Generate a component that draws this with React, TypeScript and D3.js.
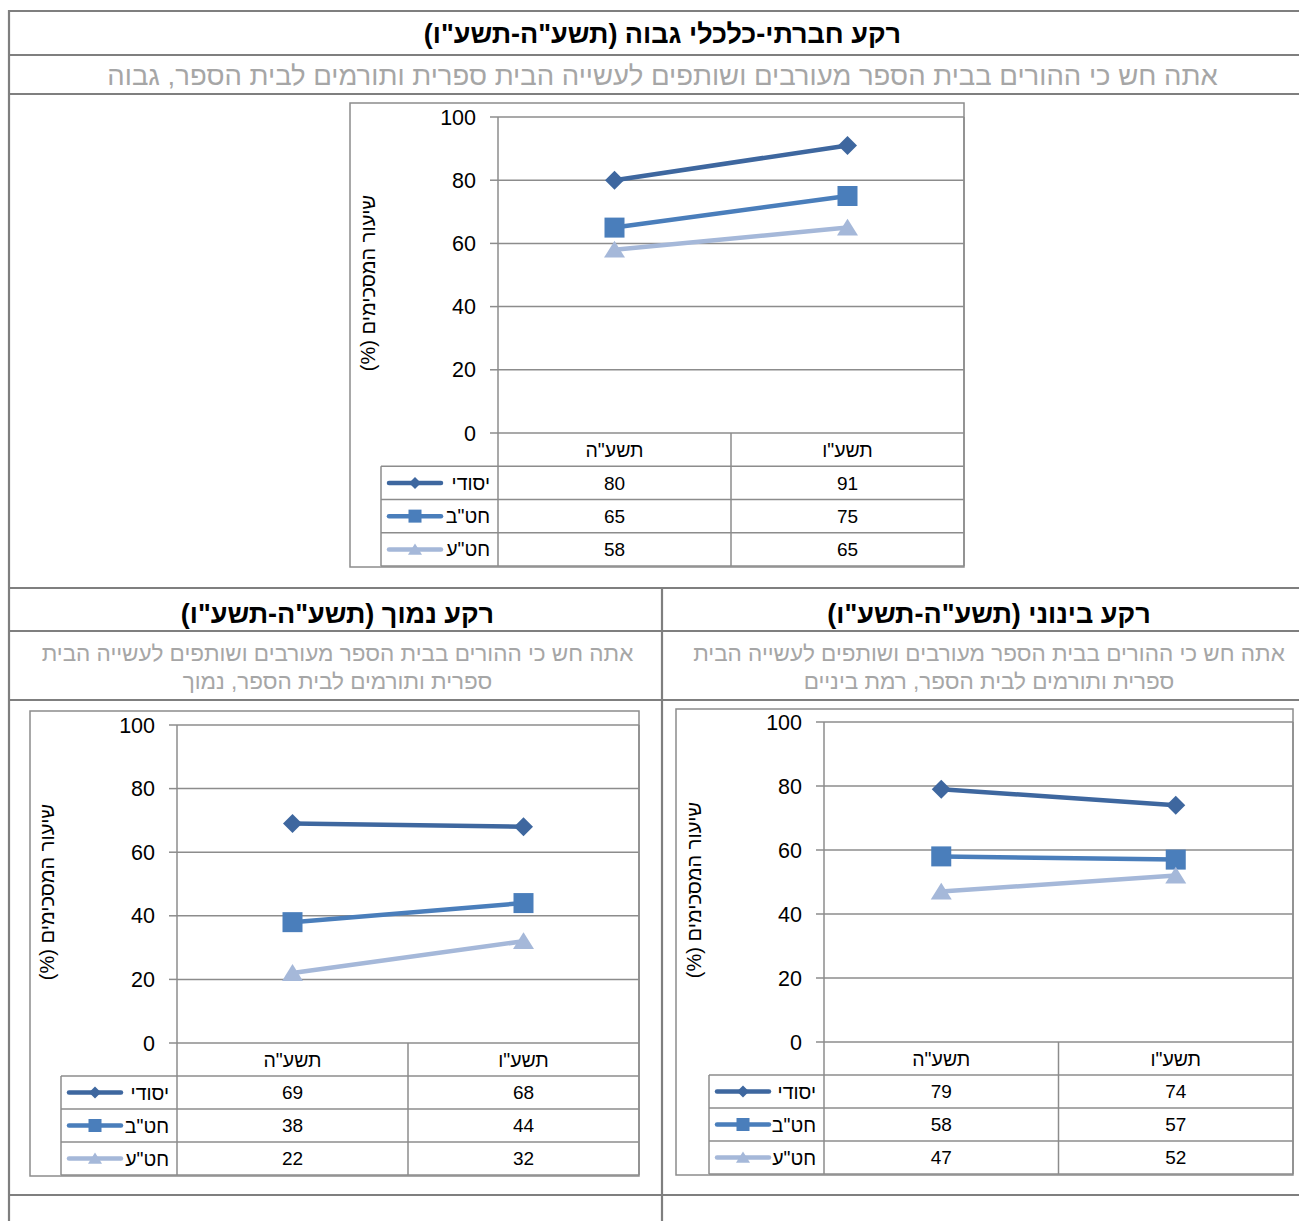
import React from "react";
import * as d3 from "d3";

const categories = ['תשע"ה', 'תשע"ו'];
const seriesNames = ["יסודי", 'חט"ב', 'חט"ע'];
const highValues = [
  [80, 91],
  [65, 75],
  [58, 65],
];
const middleValues = [
  [79, 74],
  [58, 57],
  [47, 52],
];
const lowValues = [
  [69, 68],
  [38, 44],
  [22, 32],
];
const yTicks = [0, 20, 40, 60, 80, 100];
const yTitle = "שיעור המסכימים (%)";

const titleHigh = 'רקע חברתי-כלכלי גבוה (תשע"ה-תשע"ו)';
const subHigh = "אתה חש כי ההורים בבית הספר מעורבים ושותפים לעשייה הבית ספרית ותורמים לבית הספר, גבוה";
const titleLow = 'רקע נמוך (תשע"ה-תשע"ו)';
const subLow = ["אתה חש כי ההורים בבית הספר מעורבים ושותפים לעשייה הבית", "ספרית ותורמים לבית הספר, נמוך"];
const titleMid = 'רקע בינוני (תשע"ה-תשע"ו)';
const subMid = ["אתה חש כי ההורים בבית הספר מעורבים ושותפים לעשייה הבית", "ספרית ותורמים לבית הספר, רמת ביניים"];

const colors = ["#3E679F", "#4A7EBB", "#A5B8D9"];
const FONT = "'Liberation Sans', Arial, sans-serif";
const GRID = "#8C8C8C";
const BORDER = "#7F7F7F";

type Layout = {
  fx0: number; fx1: number; fy0: number; fy1: number;
  px0: number; px1: number; pyTop: number; pyBot: number;
  legX: number; titleX: number;
};

function Marker({ i, x, y, s }: { i: number; x: number; y: number; s: number }) {
  const c = colors[i];
  const h = s * 0.5;
  if (i === 0) {
    return <path d={`M${x},${y - h}L${x + h},${y}L${x},${y + h}L${x - h},${y}Z`} fill={c} />;
  }
  if (i === 1) {
    return <rect x={x - h} y={y - h} width={s} height={s} fill={c} />;
  }
  return <path d={`M${x},${y - h * 0.85}L${x + h},${y + h * 0.75}L${x - h},${y + h * 0.75}Z`} fill={c} />;
}

function Chart({ L, data }: { L: Layout; data: number[][] }) {
  const y = d3.scaleLinear().domain([0, 100]).range([L.pyBot, L.pyTop]);
  const x = d3.scaleBand().domain(categories).range([L.px0, L.px1]);
  const rowH = (L.fy1 - 1 - L.pyBot) / 4;
  const line = d3
    .line<number>()
    .x((_, j) => (x(categories[j]) as number) + x.bandwidth() / 2)
    .y((v) => y(v));
  const tableBot = L.pyBot + rowH * 4;
  const markerSizes = [19, 20, 21];
  const legMarker = [12, 13, 14];
  return (
    <g fontFamily={FONT}>
      <rect x={L.fx0} y={L.fy0} width={L.fx1 - L.fx0} height={L.fy1 - L.fy0} fill="#fff" stroke={GRID} strokeWidth={1.5} />
      {yTicks.map((t) => (
        <g key={t}>
          {t > 0 && <line x1={L.px0} x2={L.px1} y1={y(t)} y2={y(t)} stroke={GRID} strokeWidth={1.5} />}
          <line x1={L.px0 - 8} x2={L.px0} y1={y(t)} y2={y(t)} stroke={GRID} strokeWidth={1.5} />
          <text x={L.px0 - 22} y={y(t)} dy="0.35em" textAnchor="end" fontSize={21.5} fill="#000">
            {t}
          </text>
        </g>
      ))}
      <line x1={L.px0} x2={L.px0} y1={L.pyTop} y2={tableBot} stroke={GRID} strokeWidth={1.5} />
      <line x1={L.px0} x2={L.px1} y1={L.pyBot} y2={L.pyBot} stroke={GRID} strokeWidth={1.5} />
      {[1, 2, 3, 4].map((r) => (
        <line key={r} x1={L.legX} x2={L.px1} y1={L.pyBot + rowH * r} y2={L.pyBot + rowH * r} stroke={GRID} strokeWidth={1.5} />
      ))}
      <line x1={L.legX} x2={L.legX} y1={L.pyBot + rowH} y2={tableBot} stroke={GRID} strokeWidth={1.5} />
      <line x1={x(categories[1])} x2={x(categories[1])} y1={L.pyBot} y2={tableBot} stroke={GRID} strokeWidth={1.5} />
      <line x1={L.px1} x2={L.px1} y1={L.pyTop} y2={tableBot} stroke={GRID} strokeWidth={1.5} />
      {categories.map((c) => (
        <text key={c} x={(x(c) as number) + x.bandwidth() / 2} y={L.pyBot + rowH / 2} dy="0.36em" textAnchor="middle" fontSize={19.5} direction="rtl">
          {c}
        </text>
      ))}
      {data.map((vals, i) => (
        <g key={i}>
          {vals.map((v, j) => (
            <text key={j} x={(x(categories[j]) as number) + x.bandwidth() / 2} y={L.pyBot + rowH * (i + 1.5)} dy="0.36em" textAnchor="middle" fontSize={19}>
              {v}
            </text>
          ))}
          <text x={L.px0 - 8} y={L.pyBot + rowH * (i + 1.5)} dy="0.36em" textAnchor="start" fontSize={19.5} direction="rtl">
            {seriesNames[i]}
          </text>
          <line x1={L.legX + 8} x2={L.legX + 60} y1={L.pyBot + rowH * (i + 1.5)} y2={L.pyBot + rowH * (i + 1.5)} stroke={colors[i]} strokeWidth={4.5} strokeLinecap="round" />
          <Marker i={i} x={L.legX + 34} y={L.pyBot + rowH * (i + 1.5)} s={legMarker[i]} />
        </g>
      ))}
      {data.map((vals, i) => (
        <g key={"s" + i}>
          <path d={line(vals) as string} fill="none" stroke={colors[i]} strokeWidth={4.5} />
          {vals.map((v, j) => (
            <Marker key={j} i={i} x={(x(categories[j]) as number) + x.bandwidth() / 2} y={y(v)} s={markerSizes[i]} />
          ))}
        </g>
      ))}
      <text
        transform={`translate(${L.titleX},${(L.pyTop + L.pyBot) / 2 + 8}) rotate(-90)`}
        textAnchor="middle"
        dy="0.35em"
        fontSize={20}
        direction="rtl"
      >
        {yTitle}
      </text>
    </g>
  );
}

export default function App() {
  const W = 1299;
  const H = 1221;
  const tableRight = 1316;
  const hLines = [11, 55, 94, 588, 631, 700, 1195];
  const topL: Layout = { fx0: 350, fx1: 964, fy0: 103, fy1: 567, px0: 498, px1: 964, pyTop: 117, pyBot: 433, legX: 381, titleX: 368 };
  const lowL: Layout = { fx0: 30, fx1: 639, fy0: 711, fy1: 1176, px0: 177, px1: 639, pyTop: 725, pyBot: 1043, legX: 61, titleX: 47 };
  const midL: Layout = { fx0: 676, fx1: 1293, fy0: 709, fy1: 1175, px0: 824, px1: 1293, pyTop: 722, pyBot: 1042, legX: 709, titleX: 694 };
  const cL = (9 + 662) / 2 + 2;
  const cR = (662 + tableRight) / 2;
  const cT = (9 + tableRight) / 2;
  return (
    <svg width={W} height={H} style={{ position: "absolute", left: 0, top: 0, background: "#fff" }} fontFamily={FONT}>
      <rect width={W} height={H} fill="#fff" />
      <Chart L={topL} data={highValues} />
      <Chart L={lowL} data={lowValues} />
      <Chart L={midL} data={middleValues} />
      {hLines.map((yy) => (
        <line key={yy} x1={8} x2={W} y1={yy} y2={yy} stroke={BORDER} strokeWidth={2.2} />
      ))}
      <line x1={9} x2={9} y1={10} y2={H} stroke={BORDER} strokeWidth={2.2} />
      <line x1={662} x2={662} y1={588} y2={H} stroke={BORDER} strokeWidth={2.2} />
      <text x={cT} y={43} textAnchor="middle" fontSize={27} fontWeight="bold" direction="rtl">{titleHigh}</text>
      <text x={cT} y={85} textAnchor="middle" fontSize={27.5} fill="#A6A6A6" direction="rtl">{subHigh}</text>
      <text x={cL} y={623} textAnchor="middle" fontSize={27} fontWeight="bold" direction="rtl">{titleLow}</text>
      <text x={cR} y={623} textAnchor="middle" fontSize={27} fontWeight="bold" direction="rtl">{titleMid}</text>
      {subLow.map((s, k) => (
        <text key={k} x={cL} y={661 + k * 28} textAnchor="middle" fontSize={22.5} fill="#A6A6A6" direction="rtl">{s}</text>
      ))}
      {subMid.map((s, k) => (
        <text key={k} x={cR} y={661 + k * 28} textAnchor="middle" fontSize={22.5} fill="#A6A6A6" direction="rtl">{s}</text>
      ))}
    </svg>
  );
}
